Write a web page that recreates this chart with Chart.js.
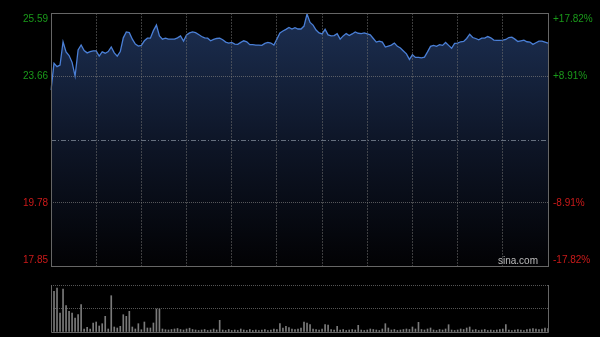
<!DOCTYPE html>
<html>
<head>
<meta charset="utf-8">
<script src="https://cdn.jsdelivr.net/npm/chart.js@4.4.0/dist/chart.umd.min.js"></script>
<style>
    body { margin: 0; background: #000; width: 600px; height: 337px; overflow: hidden; position: relative; }
    #priceBox { position: absolute; left: 0; top: 0; width: 600px; height: 270px; }
    #volBox { position: absolute; left: 0; top: 270px; width: 600px; height: 67px; }
</style>
</head>
<body>
<div id="priceBox"><canvas id="priceChart"></canvas></div>
<div id="volBox"><canvas id="volChart"></canvas></div>
<script>
const prevClose = 21.72;
const priceTicks = [17.85, 19.78, 21.72, 23.66, 25.59];
const pctTicks = [-17.82, -8.91, 0, 8.91, 17.82];

const prices = [
    23.23, 24.05, 23.95, 24.00, 24.71, 24.40, 24.29, 24.08, 23.66, 24.46,
    24.61, 24.44, 24.37, 24.41, 24.43, 24.43, 24.27, 24.40, 24.36, 24.41,
    24.55, 24.37, 24.27, 24.41, 24.83, 25.01, 24.99, 24.79, 24.64, 24.58,
    24.60, 24.74, 24.82, 24.82, 25.05, 25.22, 24.89, 24.79, 24.82, 24.79,
    24.79, 24.79, 24.83, 24.89, 24.73, 24.92, 24.98, 25.01, 24.99, 24.93,
    24.87, 24.83, 24.82, 24.74, 24.78, 24.81, 24.82, 24.77, 24.70, 24.67,
    24.69, 24.64, 24.63, 24.69, 24.74, 24.71, 24.62, 24.62, 24.61, 24.61,
    24.60, 24.66, 24.69, 24.67, 24.61, 24.79, 24.98, 25.04, 25.09, 25.15,
    25.10, 25.14, 25.10, 25.10, 25.19, 25.56, 25.30, 25.22, 25.07, 24.98,
    24.95, 25.09, 24.92, 24.89, 24.90, 24.96, 24.79, 24.89, 24.96, 24.90,
    24.95, 25.01, 24.97, 24.96, 24.98, 24.95, 24.92, 24.81, 24.70, 24.73,
    24.70, 24.55, 24.58, 24.61, 24.67, 24.57, 24.52, 24.43, 24.34, 24.17,
    24.31, 24.23, 24.23, 24.22, 24.24, 24.40, 24.57, 24.60, 24.57, 24.62,
    24.60, 24.69, 24.60, 24.51, 24.66, 24.67, 24.71, 24.72, 24.81, 24.94,
    24.84, 24.81, 24.77, 24.82, 24.82, 24.87, 24.83, 24.76, 24.75, 24.75,
    24.76, 24.78, 24.84, 24.85, 24.79, 24.72, 24.74, 24.76, 24.71, 24.70,
    24.63, 24.68, 24.73, 24.73, 24.70, 24.67
];

const volumes = [
    3070, 4070, 4400, 1900, 4300, 2630, 2070, 1900, 1400, 1730,
    2730, 300, 470, 300, 900, 1000, 600, 830, 1570, 300,
    3630, 500, 400, 570, 1730, 1570, 2070, 500, 300, 830,
    230, 1000, 400, 400, 900, 2300, 2300, 300, 230, 200,
    250, 300, 350, 250, 200, 300, 380, 250, 200, 150,
    200, 250, 150, 200, 300, 200, 1170, 200, 150, 250,
    150, 200, 150, 300, 200, 150, 250, 150, 200, 150,
    200, 250, 150, 200, 300, 250, 830, 400, 570, 450,
    300, 250, 300, 400, 1000, 900, 730, 300, 250, 200,
    300, 730, 700, 250, 200, 570, 200, 250, 150, 200,
    250, 200, 670, 200, 150, 200, 300, 250, 200, 150,
    300, 830, 400, 200, 250, 150, 200, 250, 300, 250,
    500, 300, 970, 250, 200, 300, 400, 200, 150, 250,
    200, 300, 730, 200, 150, 200, 300, 250, 400, 500,
    200, 250, 150, 200, 250, 150, 200, 150, 200, 250,
    300, 730, 200, 150, 200, 250, 200, 150, 250, 300,
    350, 300, 250, 300, 400, 350
];

const minutes = prices.map((_, i) => i);

Chart.defaults.font.family = 'Arial, "Liberation Sans", sans-serif';
Chart.defaults.animation = false;

const frame = {
    id: 'frame',
    afterDraw(chart) {
        const { ctx, chartArea: a, scales } = chart;
        ctx.save();
        if (chart.canvas.id === 'priceChart') {
            // prev close line
            const y = Math.round(scales.y.getPixelForValue(prevClose)) + 0.5;
            ctx.strokeStyle = '#66707f';
            ctx.lineWidth = 1;
            ctx.setLineDash([5, 2, 1, 2]);
            ctx.beginPath();
            ctx.moveTo(a.left, y);
            ctx.lineTo(a.right, y);
            ctx.stroke();
            ctx.setLineDash([]);
            ctx.strokeStyle = '#666';
            ctx.strokeRect(a.left + 0.5, a.top + 0.5, a.right - a.left, a.bottom - a.top);
            ctx.fillStyle = '#bbb';
            ctx.font = '10px Arial, "Liberation Sans", sans-serif';
            ctx.textAlign = 'right';
            ctx.textBaseline = 'alphabetic';
            ctx.fillText('sina.com', a.right - 10, a.bottom - 2);
        } else {
            ctx.strokeStyle = '#666';
            ctx.beginPath();
            ctx.moveTo(a.left + 0.5, a.top);
            ctx.lineTo(a.left + 0.5, a.bottom + 0.5);
            ctx.lineTo(a.right + 0.5, a.bottom + 0.5);
            ctx.lineTo(a.right + 0.5, a.top);
            ctx.stroke();
        }
        ctx.restore();
    }
};

function fillGradient(context) {
    const { chart } = context;
    const a = chart.chartArea;
    if (!a) return null;
    const g = chart.ctx.createLinearGradient(0, a.top, 0, a.bottom);
    g.addColorStop(0, '#1c2f52');
    g.addColorStop(0.5, '#0e1628');
    g.addColorStop(1, '#020204');
    return g;
}

function noPad(s) {
    s.paddingTop = 0;
    s.paddingBottom = 0;
}

new Chart(document.getElementById('priceChart'), {
    type: 'line',
    data: {
        labels: minutes,
        datasets: [{
            data: prices,
            borderColor: '#4a7fd6',
            borderWidth: 1.3,
            pointRadius: 0,
            fill: 'start',
            backgroundColor: fillGradient,
            tension: 0
        }]
    },
    options: {
        responsive: true,
        maintainAspectRatio: false,
        layout: { padding: { top: 13, bottom: 4, left: 0, right: 0 } },
        plugins: { legend: { display: false }, tooltip: { enabled: false } },
        scales: {
            x: {
                ticks: { display: false, autoSkip: false },
                grid: {
                    z: 1,
                    drawTicks: false,
                    color: c => (c.index % 15 === 0 && c.index > 0 && c.index < prices.length - 1) ? 'rgba(110,110,110,0.55)' : 'transparent'
                },
                border: { display: false, dash: [2, 1] },
                afterFit: s => { s.height = 0; s.paddingLeft = 0; s.paddingRight = 0; }
            },
            y: {
                position: 'left',
                min: priceTicks[0],
                max: priceTicks[priceTicks.length - 1],
                afterBuildTicks: s => { s.ticks = priceTicks.map(v => ({ value: v })); },
                afterFit: s => { s.width = 51; noPad(s); },
                ticks: {
                    padding: 3,
                    font: { size: 10 },
                    color: c => c.tick.value > prevClose ? '#1a9a1a' : '#cc1a1a',
                    callback: (v, i) => {
                        const t = priceTicks[i].toFixed(2);
                        if (i === 2) return '';
                        if (i === priceTicks.length - 1) return ['', t];
                        if (i === 0) return [t, ''];
                        return t;
                    }
                },
                grid: {
                    z: 1,
                    drawTicks: false,
                    color: c => (c.index === 1 || c.index === 3) ? 'rgba(120,120,120,0.7)' : 'transparent'
                },
                border: { display: false, dash: [1, 1] }
            },
            y2: {
                position: 'right',
                min: pctTicks[0],
                max: pctTicks[pctTicks.length - 1],
                afterBuildTicks: s => { s.ticks = pctTicks.map(v => ({ value: v })); },
                afterFit: s => { s.width = 52; noPad(s); },
                ticks: {
                    padding: 5,
                    font: { size: 10 },
                    color: c => c.tick.value > 0 ? '#1a9a1a' : '#cc1a1a',
                    callback: (v, i) => {
                        const p = pctTicks[i];
                        if (p === 0) return '';
                        const t = (p > 0 ? '+' : '') + p.toFixed(2) + '%';
                        if (i === pctTicks.length - 1) return ['', t];
                        if (i === 0) return [t, ''];
                        return t;
                    }
                },
                grid: { display: false, drawTicks: false },
                border: { display: false }
            }
        }
    },
    plugins: [frame]
});

new Chart(document.getElementById('volChart'), {
    type: 'bar',
    data: {
        labels: minutes,
        datasets: [{
            data: volumes,
            backgroundColor: '#7a7a7a',
            barThickness: 1
        }]
    },
    options: {
        responsive: true,
        maintainAspectRatio: false,
        layout: { padding: { top: 15, bottom: 5, left: 0, right: 52 } },
        plugins: { legend: { display: false }, tooltip: { enabled: false } },
        scales: {
            x: { display: false, offset: false },
            y: {
                min: 0,
                max: 4700,
                ticks: { display: false, stepSize: 2350 },
                afterFit: s => { s.width = 51; noPad(s); },
                grid: {
                    drawTicks: false,
                    color: c => c.index === 0 ? 'transparent' : '#555'
                },
                border: { display: false, dash: [1, 1] }
            }
        }
    },
    plugins: [frame]
});
</script>
</body>
</html>
